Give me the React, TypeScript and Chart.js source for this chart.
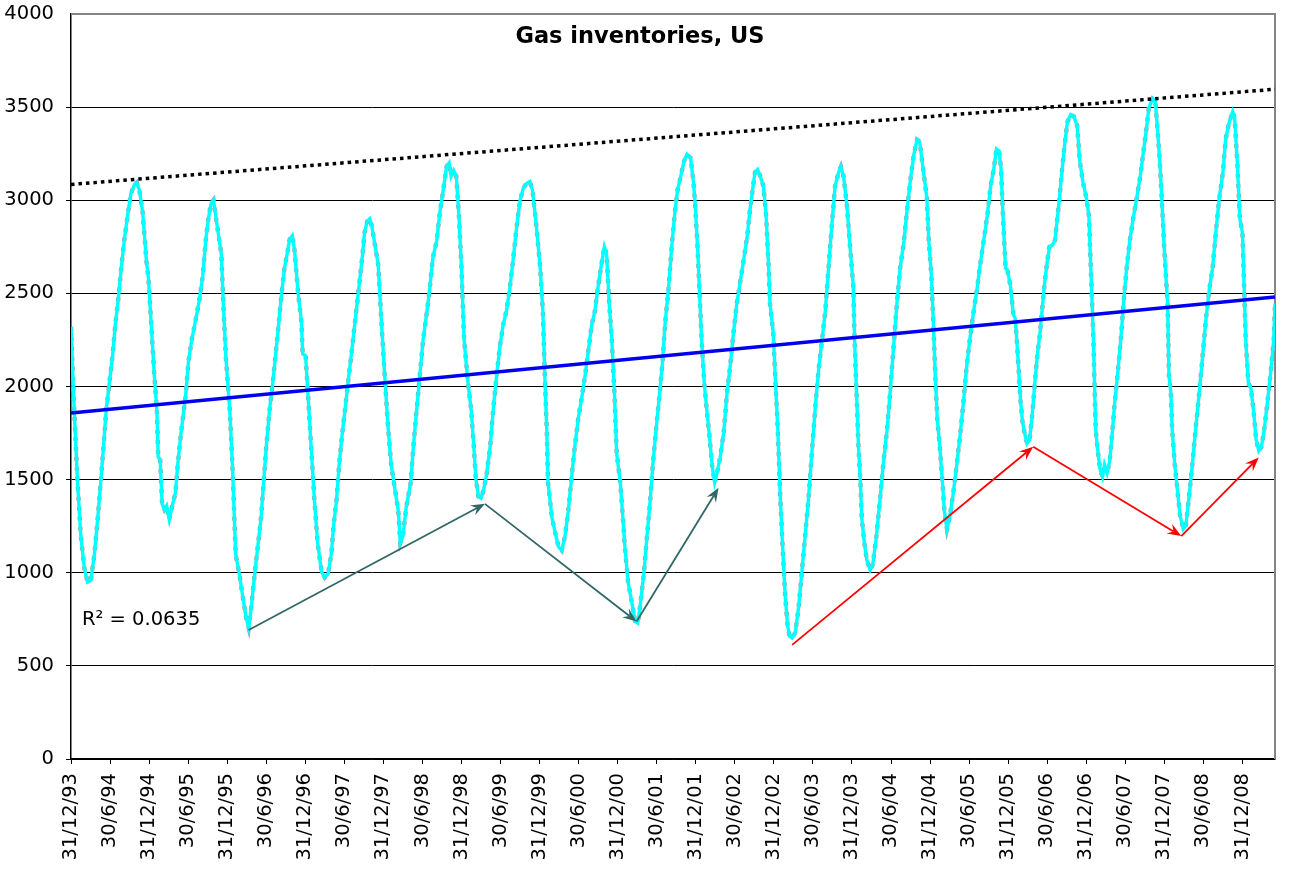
import React, { useEffect, useRef } from 'react';
import { Chart, registerables } from 'chart.js';

Chart.register(...registerables);

// x positions are months after 31/12/93
const months = [
  0.0, 0.5, 1.0, 1.5, 2.05, 2.55, 3.05, 3.6, 4.1, 4.6, 5.0, 5.4, 5.9, 6.4, 6.8, 7.3, 7.7, 8.2, 8.7, 9.2,
  9.75, 10.1, 10.5, 11.0, 11.6, 11.9, 12.3, 12.8, 13.2, 13.4, 13.7, 14.0, 14.35, 14.7, 15.1, 15.5, 16.05, 16.4, 16.9, 17.6,
  18.05, 18.55, 19.2, 19.7, 20.25, 20.7, 21.1, 21.5, 21.9, 22.3, 23.1, 23.4, 23.8, 24.4, 24.8, 25.3, 25.9, 26.4, 26.9, 27.3,
  27.7, 28.2, 28.7, 29.2, 29.6, 30.0, 30.5, 31.0, 31.5, 31.9, 32.3, 32.8, 33.2, 33.6, 34.0, 34.35, 34.9, 35.4, 35.6, 36.05,
  36.4, 36.9, 37.4, 37.9, 38.5, 39.0, 39.5, 40.0, 40.35, 40.8, 41.2, 41.7, 42.2, 42.7, 43.2, 43.7, 44.2, 44.8, 45.1, 45.5,
  45.9, 46.2, 47.2, 47.7, 48.2, 48.7, 49.2, 49.7, 50.3, 50.6, 51.0, 51.5, 52.2, 52.6, 53.1, 53.6, 54.1, 54.7, 55.1, 55.6,
  56.2, 56.7, 57.2, 57.7, 58.1, 58.4, 58.8, 59.2, 59.6, 60.0, 60.4, 61.0, 61.5, 61.9, 62.2, 62.6, 63.0, 63.4, 63.85, 64.4,
  64.9, 65.4, 65.9, 66.4, 66.9, 67.4, 67.9, 68.5, 69.0, 69.5, 70.0, 70.5, 70.9, 71.5, 72.1, 72.5, 72.8, 73.1, 73.3, 73.9,
  74.4, 74.9, 75.4, 75.9, 76.4, 76.9, 77.4, 77.95, 78.5, 79.0, 79.5, 80.0, 80.5, 81.0, 81.5, 81.95, 82.3, 82.7, 83.1, 83.5,
  83.85, 84.4, 84.8, 85.1, 85.6, 86.2, 86.7, 87.1, 87.5, 88.05, 88.5, 89.0, 89.4, 89.9, 90.4, 90.9, 91.3, 91.8, 92.3, 92.8,
  93.2, 93.7, 94.2, 94.65, 95.2, 95.65, 95.9, 96.3, 96.6, 96.9, 97.3, 97.7, 98.1, 98.5, 98.9, 99.2, 99.75, 100.3, 100.8, 101.3,
  101.8, 102.3, 102.8, 103.4, 103.9, 104.3, 104.8, 105.1, 105.5, 105.9, 106.4, 106.8, 107.2, 107.4, 107.9, 108.2, 108.6, 109.0, 109.4, 109.75,
  110.1, 110.4, 110.8, 111.3, 111.8, 112.3, 112.8, 113.3, 113.9, 114.4, 114.9, 115.4, 115.9, 116.4, 116.9, 117.4, 117.95, 118.3, 118.7, 119.2,
  119.75, 120.2, 120.4, 120.7, 121.0, 121.3, 121.5, 121.9, 122.3, 122.8, 123.2, 123.75, 124.3, 124.8, 125.4, 125.9, 126.4, 126.9, 127.4, 128.0,
  128.5, 129.0, 129.5, 130.0, 130.4, 131.0, 131.5, 131.8, 132.2, 132.5, 132.8, 133.1, 133.5, 133.9, 134.2, 134.6, 135.0, 135.5, 136.1, 136.6,
  137.1, 137.6, 138.1, 138.7, 139.2, 139.7, 140.25, 140.8, 141.3, 141.8, 142.2, 142.6, 142.9, 143.2, 143.6, 143.9, 144.35, 144.8, 145.1, 145.5,
  145.9, 146.2, 146.5, 146.9, 147.3, 147.7, 148.1, 148.5, 148.9, 149.2, 149.6, 150.0, 150.35, 150.8, 151.2, 151.5, 151.9, 152.3, 152.7, 153.1,
  153.6, 154.1, 154.6, 155.0, 155.5, 156.0, 156.4, 156.8, 157.1, 157.3, 157.45, 157.7, 158.1, 158.5, 158.8, 159.2, 159.6, 160.0, 160.35, 160.8,
  161.3, 161.8, 162.2, 162.7, 163.2, 163.7, 164.3, 164.8, 165.3, 165.6, 166.2, 166.6, 166.9, 167.3, 167.7, 168.0, 168.5, 168.7, 169.0, 169.2,
  169.6, 170.0, 170.4, 170.9, 171.3, 171.8, 172.3, 172.8, 173.3, 173.8, 174.4, 174.9, 175.4, 175.9, 176.4, 177.0, 177.4, 177.9, 178.5, 178.8,
  179.2, 179.6, 180.0, 180.25, 180.5, 180.9, 181.3, 181.7, 182.1, 182.5, 182.9, 183.3, 183.8, 184.35, 184.8, 185.0,
];

const inventory = [
  2320, 1870, 1490, 1200, 1025, 950, 960, 1100, 1290, 1500, 1680, 1870, 2020, 2170, 2330, 2480, 2630, 2790, 2920, 3035,
  3085, 3095, 3055, 2940, 2670, 2580, 2350, 2060, 1870, 1620, 1610, 1370, 1340, 1360, 1285, 1350, 1430, 1580, 1750, 1945,
  2135, 2250, 2365, 2460, 2595, 2785, 2900, 2980, 3000, 2900, 2710, 2445, 2155, 1870, 1580, 1100, 985, 870, 760, 705,
  815, 985, 1140, 1295, 1485, 1675, 1870, 2020, 2190, 2330, 2480, 2635, 2710, 2790, 2810, 2730, 2500, 2350, 2175, 2165,
  1965, 1675, 1390, 1160, 1005, 975, 995, 1100, 1255, 1390, 1580, 1755, 1905, 2060, 2210, 2365, 2520, 2710, 2825, 2885,
  2900, 2865, 2655, 2345, 2060, 1790, 1580, 1465, 1330, 1160, 1195, 1350, 1485, 1675, 1870, 2060, 2250, 2405, 2520, 2690,
  2785, 2940, 3055, 3180, 3200, 3130, 3160, 3130, 2920, 2635, 2250, 2020, 1870, 1675, 1505, 1410, 1400, 1445, 1525, 1675,
  1885, 2060, 2215, 2330, 2405, 2520, 2670, 2865, 3000, 3065, 3090, 3100, 3055, 2865, 2635, 2405, 2060, 1770, 1485, 1295,
  1215, 1140, 1120, 1195, 1330, 1505, 1675, 1830, 1945, 2060, 2195, 2330, 2405, 2540, 2655, 2750, 2710, 2445, 2250, 1965,
  1640, 1485, 1295, 1140, 950, 835, 740, 730, 835, 1005, 1195, 1390, 1580, 1770, 1945, 2135, 2345, 2520, 2750, 2940,
  3055, 3130, 3210, 3247, 3228, 3095, 2980, 2730, 2480, 2250, 2020, 1870, 1735, 1580, 1485, 1525, 1620, 1755, 1965, 2115,
  2290, 2445, 2555, 2690, 2805, 2940, 3075, 3150, 3165, 3130, 3075, 2920, 2635, 2445, 2290, 2060, 1770, 1390, 1100, 870,
  720, 660, 650, 680, 815, 1005, 1195, 1390, 1675, 1905, 2100, 2250, 2405, 2635, 2865, 3075, 3150, 3180, 3130, 2980,
  2730, 2540, 2250, 1965, 1675, 1485, 1295, 1160, 1065, 1015, 1045, 1195, 1390, 1580, 1770, 1985, 2215, 2445, 2635, 2785,
  2960, 3115, 3245, 3325, 3315, 3150, 3015, 2785, 2595, 2345, 2060, 1830, 1675, 1485, 1330, 1235, 1295, 1410, 1580, 1735,
  1905, 2100, 2250, 2405, 2520, 2655, 2785, 2920, 3075, 3170, 3275, 3265, 3170, 2920, 2635, 2625, 2540, 2385, 2365, 2155,
  1925, 1810, 1755, 1695, 1715, 1850, 2020, 2175, 2290, 2405, 2555, 2670, 2750, 2760, 2785, 2885, 3015, 3170, 3305, 3420,
  3460, 3450, 3400, 3210, 3095, 3015, 2920, 2540, 2250, 1965, 1770, 1675, 1560, 1515, 1580, 1535, 1600, 1755, 1905, 2060,
  2250, 2480, 2635, 2785, 2900, 3000, 3130, 3265, 3400, 3495, 3545, 3535, 3400, 3210, 2940, 2730, 2445, 2060, 1965, 1770,
  1580, 1445, 1310, 1235, 1255, 1410, 1580, 1770, 1945, 2135, 2365, 2520, 2635, 2825, 3000, 3150, 3325, 3410, 3475, 3440,
  3210, 2900, 2825, 2540, 2250, 2020, 1990, 1870, 1715, 1655, 1675, 1755, 1905, 2080, 2250, 2445,
];

const tickLabels = [
  '31/12/93', '30/6/94', '31/12/94', '30/6/95', '31/12/95', '30/6/96', '31/12/96', '30/6/97',
  '31/12/97', '30/6/98', '31/12/98', '30/6/99', '31/12/99', '30/6/00', '31/12/00', '30/6/01',
  '31/12/01', '30/6/02', '31/12/02', '30/6/03', '31/12/03', '30/6/04', '31/12/04', '30/6/05',
  '31/12/05', '30/6/06', '31/12/06', '30/6/07', '31/12/07', '30/6/08', '31/12/08',
];
const tickMonths = [
  0, 6, 12, 18, 24, 30, 36, 42, 48, 54, 60, 66, 72, 78, 84, 90,
  96, 102, 108, 114, 120, 126, 132, 138, 144, 150, 156, 162, 168, 174, 180,
];
const yTicks = [0, 500, 1000, 1500, 2000, 2500, 3000, 3500, 4000];

// linear trend (blue) and upper envelope (dotted)
const trendMonths = [0, 185];
const trendValues = [1858, 2481];
const envelopeValues = [3085, 3596];

// arrows: dark path and red path (month, value)
const darkArrowMonths = [27.3, 63.6, 86.9, 99.5];
const darkArrowValues = [693, 1370, 738, 1456];
const redArrowMonths = [110.8, 147.85, 170.6, 182.5];
const redArrowValues = [613, 1676, 1197, 1619];

const titleText = 'Gas inventories, US';
const r2Text = 'R\u00B2 = 0.0635';

const FONT = "'DejaVu Sans', Verdana, sans-serif";

function drawArrow(ctx: CanvasRenderingContext2D, x1: number, y1: number, x2: number, y2: number, color: string) {
  const ang = Math.atan2(y2 - y1, x2 - x1);
  const L = 14;
  const W = 5.5;
  const notch = 9;
  const c = Math.cos(ang);
  const s = Math.sin(ang);
  ctx.strokeStyle = color;
  ctx.fillStyle = color;
  ctx.lineWidth = 1.8;
  ctx.beginPath();
  ctx.moveTo(x1, y1);
  ctx.lineTo(x2 - c * notch, y2 - s * notch);
  ctx.stroke();
  const bx = x2 - c * L;
  const by = y2 - s * L;
  const px = -s * W;
  const py = c * W;
  ctx.beginPath();
  ctx.moveTo(x2, y2);
  ctx.lineTo(bx + px, by + py);
  ctx.lineTo(x2 - c * notch, y2 - s * notch);
  ctx.lineTo(bx - px, by - py);
  ctx.closePath();
  ctx.fill();
}

const overlayPlugin = {
  id: 'overlay',
  beforeDatasetsDraw(chart: any) {
    const { ctx, chartArea: a } = chart;
    ctx.save();
    ctx.strokeStyle = '#858585';
    ctx.lineWidth = 2;
    ctx.beginPath();
    ctx.moveTo(a.left, a.top);
    ctx.lineTo(a.right, a.top);
    ctx.lineTo(a.right, a.bottom);
    ctx.stroke();
    ctx.restore();
  },
  afterDatasetsDraw(chart: any) {
    const { ctx, chartArea: a, scales } = chart;
    const xs = scales.x;
    const ys = scales.y;
    ctx.save();
    const path = (ms: number[], vs: number[], color: string) => {
      for (let i = 0; i < ms.length - 1; i++) {
        drawArrow(
          ctx,
          xs.getPixelForValue(ms[i]), ys.getPixelForValue(vs[i]),
          xs.getPixelForValue(ms[i + 1]), ys.getPixelForValue(vs[i + 1]),
          color,
        );
      }
    };
    path(darkArrowMonths, darkArrowValues, '#336666');
    path(redArrowMonths, redArrowValues, '#ff0000');

    ctx.fillStyle = '#000';
    ctx.textBaseline = 'middle';
    ctx.textAlign = 'center';
    ctx.font = `bold 22.5px ${FONT}`;
    ctx.fillText(titleText, 640, a.top + 23);

    ctx.textAlign = 'left';
    ctx.font = `19.5px ${FONT}`;
    ctx.fillText(r2Text, a.left + 11, a.top + 606);
    ctx.restore();
  },
};

export default function App() {
  const ref = useRef<HTMLCanvasElement>(null);
  useEffect(() => {
    document.body.style.margin = '0';
    document.body.style.overflow = 'hidden';
    const canvas = ref.current;
    if (!canvas) return;
    const series = months.map((m, i) => ({ x: m, y: inventory[i] }));
    const trend = trendMonths.map((m, i) => ({ x: m, y: trendValues[i] }));
    const envelope = trendMonths.map((m, i) => ({ x: m, y: envelopeValues[i] }));
    const chart = new Chart(canvas, {
      type: 'line',
      data: {
        datasets: [
          { data: envelope, borderColor: '#000', borderWidth: 3.5, borderDash: [3.5, 4], pointRadius: 0, order: 0 },
          { data: trend, borderColor: '#0000ee', borderWidth: 3.5, pointRadius: 0, order: 1 },
          { data: series, borderColor: '#00ffff', borderWidth: 3.4, pointRadius: 0, tension: 0, order: 2 },
          { data: series, borderColor: '#a0a0a0', borderWidth: 4.4, borderDash: [4, 6], pointRadius: 0, tension: 0, order: 3 },
        ],
      },
      options: {
        animation: false,
        responsive: false,
        devicePixelRatio: 1,
        layout: { padding: { top: 14, right: 16, left: 0, bottom: 0 } },
        plugins: { legend: { display: false }, tooltip: { enabled: false }, title: { display: false } },
        scales: {
          x: {
            type: 'linear',
            min: 0,
            max: 185,
            afterBuildTicks: (s: any) => { s.ticks = tickMonths.map((v) => ({ value: v })); },
            afterFit: (s: any) => {
              s.height = 125;
              s.paddingLeft = 0;
              s.paddingRight = 0;
              s.paddingTop = 0;
              s.paddingBottom = 0;
            },
            ticks: {
              autoSkip: false,
              maxRotation: 90,
              minRotation: 90,
              padding: 9,
              color: '#000',
              font: { family: FONT, size: 19.5 },
              callback: (_v: any, i: number) => tickLabels[i],
            },
            grid: { drawOnChartArea: false, drawTicks: true, tickLength: 5, color: '#000', lineWidth: 1 },
            border: { color: '#000', width: 1.5 },
          },
          y: {
            min: 0,
            max: 4000,
            afterBuildTicks: (s: any) => { s.ticks = yTicks.map((v) => ({ value: v })); },
            afterFit: (s: any) => {
              s.width = 71;
              s.paddingTop = 0;
              s.paddingBottom = 0;
              s.paddingLeft = 0;
              s.paddingRight = 0;
            },
            ticks: {
              padding: 12,
              color: '#000',
              font: { family: FONT, size: 19.5 },
              callback: (v: any) => String(v),
            },
            grid: {
              color: (c: any) => (c.tick && c.tick.value === 4000 ? 'rgba(0,0,0,0)' : '#000'),
              tickLength: 5,
              lineWidth: 1,
            },
            border: { color: '#000', width: 1.5 },
          },
        },
      },
      plugins: [overlayPlugin],
    });
    return () => chart.destroy();
  }, []);
  return <canvas ref={ref} width={1291} height={884} style={{ display: 'block' }} />;
}
